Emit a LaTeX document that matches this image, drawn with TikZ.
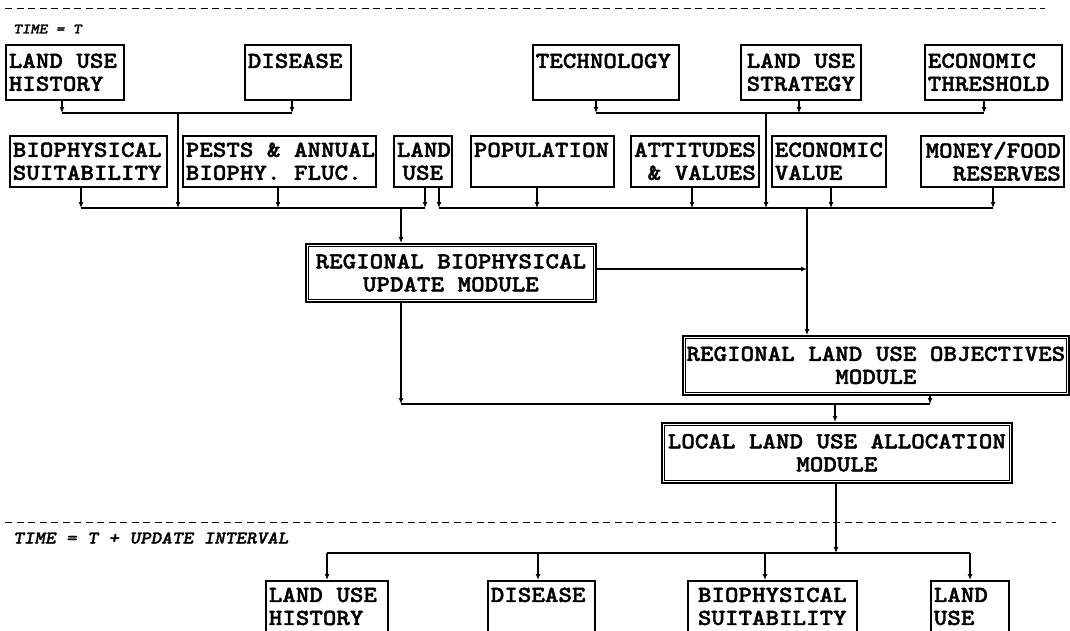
\documentclass[tikz,border=0pt]{standalone}
\usepackage{fontspec}
\usetikzlibrary{arrows.meta}
\newfontfamily\monofnt{lmmonolt10-bold}[Extension=.otf, FakeStretch=1.12, AutoFakeBold=1.6]
\newfontfamily\monoitfnt{lmmonolt10-boldoblique}[Extension=.otf, FakeStretch=1.12, AutoFakeBold=1.4]
\newcommand\boxfnt{\monofnt\bfseries\fontsize{23}{23}\selectfont}
\newcommand\timefnt{\monoitfnt\bfseries\fontsize{18}{20}\selectfont}
\newcommand\timefntsm{\monoitfnt\bfseries\fontsize{14.5}{16}\selectfont}
\tikzset{
  box/.style={draw, line width=1.6pt, anchor=north west, inner xsep=3pt, inner ysep=1pt, font=\boxfnt,
    execute at begin node={\spaceskip=0pt\xspaceskip=0pt}},
  modbox/.style={box, line width=1.7pt},
  inborder/.style={line width=1.1pt},
  conn/.style={line width=1.3pt},
  arr/.style={conn, -{Latex[length=6pt,width=5pt]}},
  sepline/.style={dash pattern=on 7pt off 4.5pt, line width=1pt},
  tlabel/.style={anchor=west, inner sep=0pt}
}
\begin{document}
\begin{tikzpicture}[x=1pt,y=-1pt]
\useasboundingbox (0,0) rectangle (1070,630);
\clip (0,0) rectangle (1070,630);
\fill[white] (0,0) rectangle (1070,630);

% separators and time labels
\draw[sepline] (5,8) -- (1045,8);
\node[tlabel, font=\timefntsm] (t0) at (13,29) {TIME = T};
\draw[sepline] (5,522) -- (1056,522);
\node[tlabel, font=\timefnt] (t1) at (13,538) {TIME = T + UPDATE INTERVAL};

% row 1
\node[box, text width=112pt, minimum height=55pt, align=left] (luh) at (5,44) {\mbox{LAND USE}\\HISTORY};
\node[box, text width=100pt, minimum height=55pt, align=left] (dis) at (244,44) {DISEASE\\\mbox{}};
\node[box, text width=140pt, minimum height=55pt, align=left] (tech) at (532,44) {TECHNOLOGY\\\mbox{}};
\node[box, text width=114pt, minimum height=55pt, align=center] (lus) at (740,44) {\mbox{LAND USE}\\STRATEGY};
\node[box, text width=131pt, minimum height=55pt, align=left] (ecth) at (924,44) {ECONOMIC\\THRESHOLD};

% row 2
\node[box, text width=151pt, minimum height=51pt, align=left] (bio) at (9,135) {BIOPHYSICAL\\SUITABILITY};
\node[box, text width=187pt, minimum height=51pt, align=left] (pests) at (182,135) {\mbox{PESTS \& ANNUAL}\\\mbox{BIOPHY. FLUC.}};
\node[box, text width=52pt, minimum height=51pt, align=center] (lu) at (393,135) {LAND\\USE};
\node[box, text width=137pt, minimum height=51pt, align=left] (pop) at (470,135) {POPULATION\\\mbox{}};
\node[box, text width=122pt, minimum height=51pt, align=right] (att) at (630,135) {ATTITUDES\\\mbox{\& VALUES}};
\node[box, text width=108pt, minimum height=51pt, align=left] (ecv) at (771,135) {ECONOMIC\\VALUE};
\node[box, text width=137pt, minimum height=51pt, align=right] (mon) at (920,135) {MONEY/FOOD\\RESERVES};

% modules
\node[modbox, text width=284pt, minimum height=58pt, align=center] (rbum) at (305,243) {\mbox{REGIONAL BIOPHYSICAL}\\\mbox{UPDATE MODULE}};
\node[modbox, text width=380pt, minimum height=59pt, align=center] (rluom) at (682,335) {\mbox{REGIONAL LAND USE OBJECTIVES}\\MODULE};
\node[modbox, text width=344pt, minimum height=60pt, align=center] (lluam) at (661,422) {\mbox{LOCAL LAND USE ALLOCATION}\\MODULE};
\foreach \m in {rbum,rluom,lluam}{
  \draw[inborder] ([shift={(3.5pt,-3.5pt)}]\m.north west) rectangle ([shift={(-3.5pt,3.5pt)}]\m.south east);
}

% bottom row (cut off by the lower edge)
\node[box, text width=116pt, minimum height=60pt, align=left] (luh2) at (265,580) {\mbox{LAND USE}\\HISTORY\\[-14pt]\mbox{}};
\node[box, text width=101pt, minimum height=60pt, align=left] (dis2) at (487,580) {DISEASE\\\mbox{}\\[-14pt]\mbox{}};
\node[box, text width=163pt, minimum height=60pt, align=center] (bio2) at (687,580) {BIOPHYSICAL\\SUITABILITY\\[-14pt]\mbox{}};
\node[box, text width=72pt, minimum height=60pt, align=left] (lu2) at (930,580) {LAND\\USE\\[-14pt]\mbox{}};

% top-left group
\coordinate (tlA) at (62,113);
\coordinate (tlB) at (292,113);
\coordinate (tlC) at (178,113);
\draw[arr] (62,0 |- luh.south) -- (tlA);
\draw[arr] (292,0 |- dis.south) -- (tlB);
\draw[conn] (tlA) -- (tlB);
% top-right group
\coordinate (trA) at (596,113);
\coordinate (trB) at (799,113);
\coordinate (trE) at (984,113);
\coordinate (trC) at (766,113);
\draw[arr] (596,0 |- tech.south) -- (trA);
\draw[arr] (799,0 |- lus.south) -- (trB);
\draw[arr] (984,0 |- ecth.south) -- (trE);
\draw[conn] (trA) -- (trE);

% left bus
\coordinate (lbA) at (81,208);
\coordinate (lbB) at (425,208);
\coordinate (lbD) at (401,208);
\draw[arr] (81,0 |- bio.south) -- (lbA);
\draw[arr] (278,0 |- pests.south) -- (278,208);
\draw[arr] (tlC) -- (178,208);
\draw[arr] (425,0 |- lu.south) -- (lbB);
\draw[conn] (lbA) -- (lbB);
\draw[arr] (lbD) -- (401,0 |- rbum.north);

% right bus
\coordinate (rbA) at (439,208);
\coordinate (rbB) at (993,208);
\coordinate (rbD) at (807,208);
\draw[arr] (439,0 |- lu.south) -- (rbA);
\draw[arr] (537,0 |- pop.south) -- (537,208);
\draw[arr] (692,0 |- att.south) -- (692,208);
\draw[arr] (trC) -- (766,208);
\draw[arr] (831,0 |- ecv.south) -- (831,208);
\draw[arr] (993,0 |- mon.south) -- (rbB);
\draw[conn] (rbA) -- (rbB);
\draw[arr] (rbD) -- (807,0 |- rluom.north);

% module links
\coordinate (rj) at (807,269);
\draw[arr] (rbum.east |- rj) -- (rj);
\coordinate (mA) at (401,404);
\coordinate (mB) at (930,404);
\coordinate (mC) at (835,404);
\draw[arr] (401,0 |- rbum.south) -- (mA);
\draw[arr] (930,0 |- rluom.south) -- (mB);
\draw[conn] (mA) -- (mB);
\draw[arr] (mC) -- (835,0 |- lluam.north);

% output bus
\coordinate (oA) at (327,553);
\coordinate (oB) at (970,553);
\coordinate (oC) at (836,553);
\draw[arr] (836,0 |- lluam.south) -- (oC);
\draw[conn] (oA) -- (oB);
\draw[arr] (oA) -- (327,0 |- luh2.north);
\draw[arr] (538,553) -- (538,0 |- dis2.north);
\draw[arr] (765,553) -- (765,0 |- bio2.north);
\draw[arr] (oB) -- (970,0 |- lu2.north);
\end{tikzpicture}
\end{document}
